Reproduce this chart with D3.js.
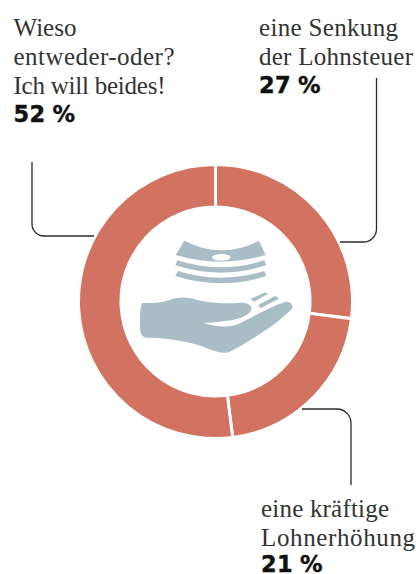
<!DOCTYPE html>
<html lang="de">
<head>
<meta charset="utf-8">
<script src="https://cdn.jsdelivr.net/npm/d3@7"></script>
<style>
html,body{margin:0;padding:0;background:#fff}
svg{display:block}
.t{font-family:"Liberation Serif",serif;font-size:25px;fill:#333}
.v{font-family:"DejaVu Sans",sans-serif;font-weight:700;font-size:22.5px;fill:#111;stroke:#111;stroke-width:.4;letter-spacing:.3px;word-spacing:-1px}
.lead{fill:none;stroke:#2b2b2b;stroke-width:1.3}
</style>
</head>
<body>
<svg id="c" width="416" height="574"></svg>
<script>
// Survey shares, clockwise from twelve o'clock
const answers = ["eine Senkung der Lohnsteuer", "eine kräftige Lohnerhöhung", "Wieso entweder-oder? Ich will beides!"];
const shares = [27, 21, 52];
const answerLines = [
  ["eine Senkung", "der Lohnsteuer"],
  ["eine kräftige", "Lohnerhöhung"],
  ["Wieso", "entweder-oder?", "Ich will beides!"]
];
// Label placement: left edge, first baseline, set width per line
const labelAnchors = [[259, 36], [261, 517], [13.5, 36]];
const lineWidths = [[139, 154], [128, 154], [63, 161, 152]];
const lineStep = 29;

const svg = d3.select("#c");
const cx = 215.5, cy = 301.5;

const pie = d3.pie().sort(null).value(d => d)(shares);
const arc = d3.arc().innerRadius(94.5).outerRadius(137);

svg.append("g").attr("transform", `translate(${cx},${cy})`)
  .selectAll("path").data(pie).join("path")
  .attr("d", arc)
  .attr("fill", "#d27361")
  .attr("stroke", "#fff")
  .attr("stroke-width", 3);

// Leader lines from each label to its ring segment
const leaders = [
  "M376.5 78V229a13 13 0 0 1 -13 13H340",
  "M302 409H337a14 14 0 0 1 14 14V485",
  "M32 162V224a12 12 0 0 0 12 12H94"
];
svg.selectAll("path.lead").data(leaders).join("path")
  .attr("class", "lead").attr("d", d => d);

// Labels: answer text followed by the bold percentage
answerLines.forEach((lines, i) => {
  const [x, y] = labelAnchors[i];
  const g = svg.append("g");
  lines.forEach((s, j) => {
    g.append("text").attr("class", "t").attr("x", x).attr("y", y + j * lineStep)
      .attr("textLength", lineWidths[i][j]).attr("lengthAdjust", "spacing").text(s);
  });
  g.append("text").attr("class", "v").attr("x", x).attr("y", Math.min(y + lines.length * lineStep - 1, 572))
    .text(`${shares[i]} %`);
});

// Hand holding banknotes, centre icon
const icon = svg.append("g").attr("transform", "translate(130,225) scale(0.3333)").attr("fill", "#a9bdc7");
icon.append("path").attr("d", "M163 47Q275 105 387 47L407 90Q272 130 137 90Z");
icon.append("ellipse").attr("cx", 274).attr("cy", 97).attr("rx", 28).attr("ry", 10).attr("fill", "#fff");
icon.append("path").attr("d", "M142 106Q272 148 403 106L409 121Q272 165 136 121Z");
icon.append("path").attr("d", "M143 138Q272 178 403 138L409 153Q272 197 136 153Z");
icon.append("path").attr("d", "M38 234C70 234 90 234 120 224C150 215 170 215 200 224C230 232 280 238 330 233C360 232 370 245 362 258C350 280 300 290 220 294C260 306 300 310 330 295C380 270 420 245 465 231C480 228 492 240 485 252C450 290 360 350 300 380C285 386 265 382 245 375C200 355 130 338 50 338C35 338 30 325 30 300C30 270 30 240 38 234Z");
icon.append("path").attr("d", "M362 222L405 202L414 207L372 230Z");
icon.append("path").attr("d", "M385 240L435 213L448 220L392 250Z");
</script>
</body>
</html>
